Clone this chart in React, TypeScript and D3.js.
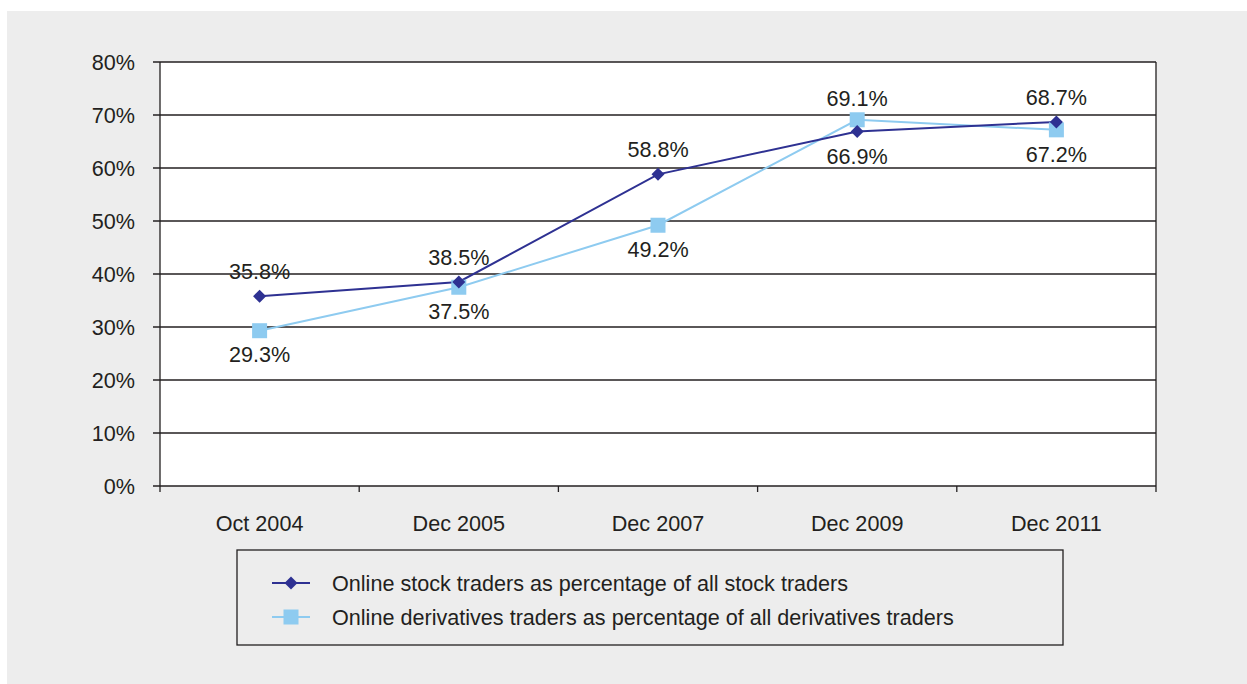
import * as d3 from 'd3';

const categories = ['Oct 2004', 'Dec 2005', 'Dec 2007', 'Dec 2009', 'Dec 2011'];
const stockValues = [35.8, 38.5, 58.8, 66.9, 68.7];
const derivValues = [29.3, 37.5, 49.2, 69.1, 67.2];
// label placement: true = above the point
const stockAbove = [true, true, true, false, true];
const derivAbove = [false, false, false, true, false];
const yTicks = [0, 10, 20, 30, 40, 50, 60, 70, 80];
const seriesNames = [
  'Online stock traders as percentage of all stock traders',
  'Online derivatives traders as percentage of all derivatives traders',
];

const W = 1247;
const H = 684;
const STOCK = '#2e3192';
const DERIV = '#8ecbf0';
const INK = '#231f20';
const FONT = '"Liberation Sans", Arial, sans-serif';
const FS = 21.6;

// wide diamond like the original markers
const diamond = 'M0,-6.5L6.5,0L0,6.5L-6.5,0Z';

export default function App() {
  const left = 160;
  const right = 1156;
  const top = 62;
  const bottom = 486;

  const x = d3.scaleBand<string>().domain(categories).range([left, right]);
  const y = d3.scaleLinear().domain([0, 80]).range([bottom, top]);
  const cx = (c: string) => (x(c) ?? 0) + x.bandwidth() / 2;

  const line = d3.line<number>()
    .x((_, i) => cx(categories[i]))
    .y(d => y(d));

  const fmt = (v: number) => `${v.toFixed(1)}%`;

  return (
    <svg width={W} height={H} style={{ display: 'block', position: 'absolute', left: 0, top: 0 }} fontFamily={FONT}>
      <rect x={7} y={11} width={W - 7} height={H - 11} fill="#ededed" />
      <rect x={left} y={top} width={right - left} height={bottom - top} fill="#fff" />

      {/* gridlines + y ticks */}
      {yTicks.map(t => (
        <g key={t}>
          <line x1={153} x2={right} y1={y(t)} y2={y(t)} stroke={INK} strokeWidth={1.3} />
          <text x={135} y={y(t)} dy="0.36em" textAnchor="end" fontSize={FS} fill={INK}>{t}%</text>
        </g>
      ))}
      <line x1={left} x2={left} y1={top} y2={bottom + 6} stroke={INK} strokeWidth={1.3} />
      <line x1={right} x2={right} y1={top} y2={bottom + 6} stroke={INK} strokeWidth={1.3} />

      {/* x ticks */}
      {categories.map((c, i) => (
        <g key={c}>
          {i > 0 && (
            <line x1={x(c)} x2={x(c)} y1={bottom} y2={bottom + 6} stroke={INK} strokeWidth={1.3} />
          )}
          <text x={cx(c)} y={523} dy="0.36em" textAnchor="middle" fontSize={FS} fill={INK}>{c}</text>
        </g>
      ))}

      {/* series */}
      <path d={line(derivValues) ?? ''} fill="none" stroke={DERIV} strokeWidth={2} />
      <path d={line(stockValues) ?? ''} fill="none" stroke={STOCK} strokeWidth={2} />

      {derivValues.map((v, i) => (
        <rect key={`d${i}`} x={cx(categories[i]) - 7.5} y={y(v) - 7.5} width={15} height={15} fill={DERIV} />
      ))}
      {stockValues.map((v, i) => (
        <path key={`s${i}`} d={diamond} transform={`translate(${cx(categories[i])},${y(v)})`} fill={STOCK} />
      ))}

      {stockValues.map((v, i) => (
        <text key={`sl${i}`} x={cx(categories[i])} y={y(v) + (stockAbove[i] ? -25 : 25)} dy="0.36em"
          textAnchor="middle" fontSize={FS} fill={INK}>{fmt(v)}</text>
      ))}
      {derivValues.map((v, i) => (
        <text key={`dl${i}`} x={cx(categories[i])} y={y(v) + (derivAbove[i] ? -22 : 24)} dy="0.36em"
          textAnchor="middle" fontSize={FS} fill={INK}>{fmt(v)}</text>
      ))}

      {/* legend */}
      <rect x={237} y={550} width={826} height={95} fill="none" stroke={INK} strokeWidth={1.3} />
      <g>
        <line x1={272} x2={310} y1={583} y2={583} stroke={STOCK} strokeWidth={2} />
        <path d={diamond} transform="translate(291,583)" fill={STOCK} />
        <text x={332} y={583} dy="0.36em" fontSize={FS} fill={INK}>{seriesNames[0]}</text>
        <line x1={272} x2={310} y1={617} y2={617} stroke={DERIV} strokeWidth={2} />
        <rect x={283.5} y={609.5} width={15} height={15} fill={DERIV} />
        <text x={332} y={617} dy="0.36em" fontSize={FS} fill={INK}>{seriesNames[1]}</text>
      </g>
    </svg>
  );
}
